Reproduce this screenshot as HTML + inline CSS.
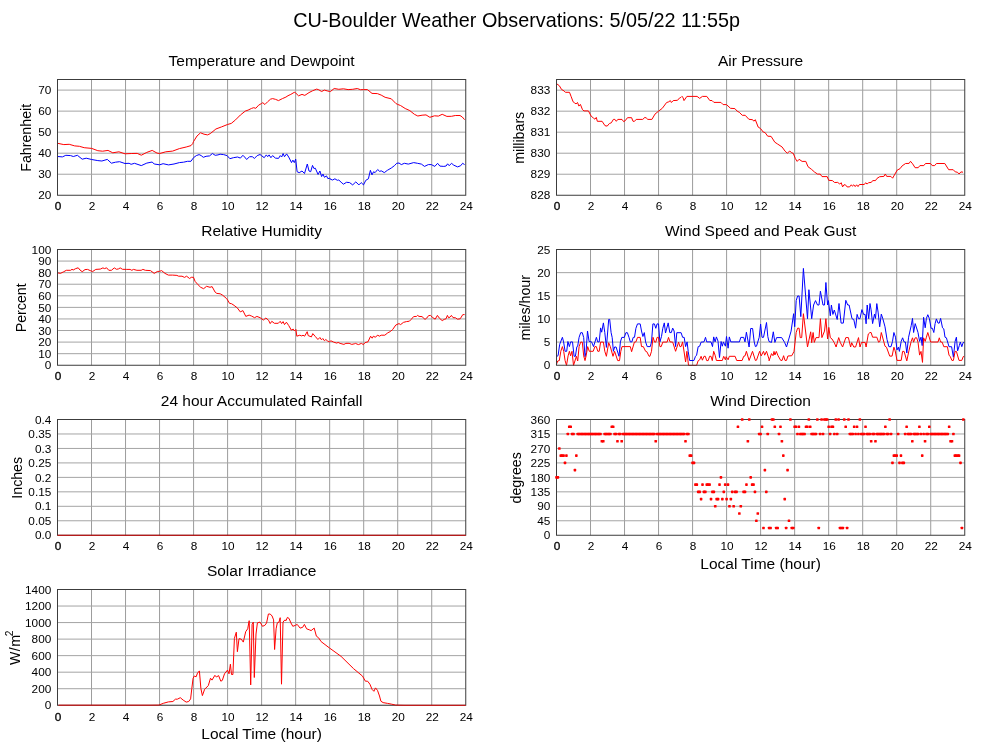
<!DOCTYPE html>
<html><head><meta charset="utf-8"><title>CU-Boulder Weather Observations</title>
<style>
html,body{margin:0;padding:0;background:#fff;}
svg{display:block;transform:translateZ(0);will-change:transform;}
text{font-family:"Liberation Sans",Arial,Helvetica,sans-serif;fill:#000;}
.mt{font-size:19.8px;text-anchor:middle;}
.t{font-size:15.5px;text-anchor:middle;}
.yt{font-size:14.2px;text-anchor:middle;}
.yl{font-size:11.8px;text-anchor:end;}
.xl{font-size:11.8px;text-anchor:middle;}
.b0{stroke:#000;stroke-width:0.3px;}
.g{stroke:#9c9c9c;stroke-width:1;}
.h{stroke:#a4a4a4;}
.f{fill:none;stroke:#3c3c3c;stroke-width:1;}
</style></head><body>
<svg width="1000" height="745" viewBox="0 0 1000 745">
<rect width="1000" height="745" fill="#fff"/>
<text x="516.6" y="27" class="mt">CU-Boulder Weather Observations: 5/05/22 11:55p</text>
<text x="261.6" y="66.2" class="t">Temperature and Dewpoint</text>
<line x1="91.52" y1="79.5" x2="91.52" y2="195.25" class="g"/>
<line x1="125.54" y1="79.5" x2="125.54" y2="195.25" class="g"/>
<line x1="159.56" y1="79.5" x2="159.56" y2="195.25" class="g"/>
<line x1="193.58" y1="79.5" x2="193.58" y2="195.25" class="g"/>
<line x1="227.60" y1="79.5" x2="227.60" y2="195.25" class="g"/>
<line x1="261.62" y1="79.5" x2="261.62" y2="195.25" class="g"/>
<line x1="295.65" y1="79.5" x2="295.65" y2="195.25" class="g"/>
<line x1="329.67" y1="79.5" x2="329.67" y2="195.25" class="g"/>
<line x1="363.69" y1="79.5" x2="363.69" y2="195.25" class="g"/>
<line x1="397.71" y1="79.5" x2="397.71" y2="195.25" class="g"/>
<line x1="431.73" y1="79.5" x2="431.73" y2="195.25" class="g"/>
<text x="51.3" y="199.40" class="yl">20</text>
<line x1="57.5" y1="174.22" x2="465.75" y2="174.22" class="g h"/>
<text x="51.3" y="178.37" class="yl">30</text>
<line x1="57.5" y1="153.19" x2="465.75" y2="153.19" class="g h"/>
<text x="51.3" y="157.34" class="yl">40</text>
<line x1="57.5" y1="132.16" x2="465.75" y2="132.16" class="g h"/>
<text x="51.3" y="136.31" class="yl">50</text>
<line x1="57.5" y1="111.13" x2="465.75" y2="111.13" class="g h"/>
<text x="51.3" y="115.28" class="yl">60</text>
<line x1="57.5" y1="90.10" x2="465.75" y2="90.10" class="g h"/>
<text x="51.3" y="94.25" class="yl">70</text>
<text x="58.0" y="210.2" class="xl b0">0</text>
<text x="92.0" y="210.2" class="xl">2</text>
<text x="126.0" y="210.2" class="xl">4</text>
<text x="160.1" y="210.2" class="xl">6</text>
<text x="194.1" y="210.2" class="xl">8</text>
<text x="228.1" y="210.2" class="xl">10</text>
<text x="262.1" y="210.2" class="xl">12</text>
<text x="296.1" y="210.2" class="xl">14</text>
<text x="330.2" y="210.2" class="xl">16</text>
<text x="364.2" y="210.2" class="xl">18</text>
<text x="398.2" y="210.2" class="xl">20</text>
<text x="432.2" y="210.2" class="xl">22</text>
<text x="466.2" y="210.2" class="xl">24</text>
<text transform="translate(31.4,137.8) rotate(-90)" class="yt">Fahrenheit</text>
<polyline points="57.7,156.5 62.4,156.9 65.8,155.3 70.6,155.6 73.3,156.5 77.4,155.3 82.2,159.2 86.2,158.2 91.7,159.5 97.8,160.6 101.9,161.0 107.3,159.4 111.4,163.2 115.5,162.2 119.6,161.7 125.0,163.5 129.1,163.3 131.1,164.3 134.5,163.3 141.3,165.6 146.8,163.1 152.2,162.0 154.2,164.0 159.7,164.8 163.1,163.7 168.5,164.9 174.0,164.0 179.4,162.6 183.5,162.2 187.6,161.3 191.0,161.3 192.7,158.8 193.5,157.7 196.3,155.6 199.1,154.6 201.2,155.6 203.3,157.3 206.1,156.3 209.6,155.9 212.4,153.5 215.2,155.3 218.0,154.9 220.1,154.2 223.6,154.6 227.1,155.6 229.9,158.7 233.4,157.7 237.6,157.0 240.4,158.1 242.9,155.3 244.6,157.0 246.7,159.5 249.5,156.7 252.3,156.7 254.4,158.4 257.2,155.6 260.0,154.5 261.5,155.6 264.2,157.7 266.3,154.9 267.7,156.7 269.1,154.9 270.9,157.7 272.6,155.6 275.4,158.1 278.5,158.4 280.3,155.6 281.7,157.0 283.1,153.5 284.5,156.7 286.6,153.9 288.7,157.0 291.5,162.6 292.9,160.1 294.3,162.6 295.7,159.1 297.1,171.7 299.2,172.7 302.0,171.0 304.5,173.5 307.3,164.0 309.0,171.0 310.7,171.7 312.5,165.4 313.9,168.5 315.3,168.2 318.1,174.5 319.9,171.0 321.6,176.6 323.0,174.1 324.4,177.3 326.5,175.9 327.9,178.7 329.7,178.0 330.3,179.2 332.6,180.0 334.9,178.8 337.3,180.3 338.8,180.0 341.1,182.2 343.4,184.2 346.5,182.3 349.6,182.6 352.7,184.9 355.8,181.9 358.9,184.9 361.2,182.6 363.5,184.9 365.8,180.3 368.4,178.8 370.4,170.3 372.0,174.9 373.5,171.8 375.1,172.6 377.7,169.5 379.7,171.4 381.2,170.8 384.3,172.6 387.4,170.3 391.3,168.0 394.4,165.7 396.7,163.3 399.0,163.0 401.3,164.6 404.4,163.3 408.3,164.1 413.7,162.6 417.5,163.3 421.4,164.1 424.5,166.4 428.3,164.6 431.4,164.6 434.8,166.4 437.6,163.3 439.9,166.1 443.8,166.4 446.1,166.0 447.6,163.8 449.2,165.7 451.5,163.3 453.8,165.2 457.6,166.9 460.7,165.7 462.6,163.3 464.6,164.6" fill="none" stroke="#0000ff" stroke-width="1.0" stroke-linejoin="round"/>
<polyline points="57.7,143.3 63.8,144.6 69.2,144.3 74.7,145.9 79.4,146.3 84.2,147.7 91.7,148.4 97.8,150.7 102.6,151.2 108.0,150.4 112.8,152.8 118.9,151.8 125.0,153.8 131.8,153.5 137.2,153.4 141.3,155.2 146.8,152.4 152.2,150.4 157.0,153.1 159.7,153.5 165.8,151.8 172.6,151.1 179.4,148.6 186.2,147.0 191.0,145.6 192.7,143.6 193.5,141.6 197.0,136.0 200.5,132.8 204.0,134.2 207.5,134.9 210.3,133.6 215.9,129.0 221.5,126.9 227.5,124.5 231.3,123.4 235.5,119.9 240.4,115.0 245.3,111.1 248.1,110.1 251.6,108.4 253.7,107.7 255.8,108.3 258.6,105.2 261.5,103.5 262.8,102.7 264.9,104.5 267.7,101.7 270.5,99.2 272.6,98.6 275.4,99.3 278.5,100.6 282.4,98.6 285.9,97.1 288.0,95.7 290.8,94.4 294.3,92.3 295.7,93.0 298.5,95.8 302.0,94.4 304.8,95.4 309.0,92.6 312.5,90.8 316.7,89.1 318.8,89.8 321.6,91.5 324.4,90.1 327.2,90.9 329.7,91.5 330.3,91.6 334.2,88.5 338.8,89.3 343.4,88.8 348.1,89.6 352.7,89.3 357.3,88.5 360.4,89.7 363.5,89.6 367.4,89.6 372.0,93.4 377.4,93.6 381.2,95.1 385.1,97.3 391.3,98.8 395.9,103.5 397.6,104.4 400.5,105.5 405.2,108.5 409.8,110.6 414.4,114.3 417.8,116.0 422.1,115.2 426.0,114.9 429.9,117.3 434.5,115.8 438.4,116.1 442.2,114.3 446.9,116.4 451.5,116.3 455.3,115.5 460.0,115.5 462.3,117.0 464.6,119.7" fill="none" stroke="#ff0000" stroke-width="1.0" stroke-linejoin="round"/>
<rect x="57.5" y="79.5" width="408.25" height="115.75" class="f"/>
<text x="261.6" y="236.2" class="t">Relative Humidity</text>
<line x1="91.52" y1="249.5" x2="91.52" y2="365.25" class="g"/>
<line x1="125.54" y1="249.5" x2="125.54" y2="365.25" class="g"/>
<line x1="159.56" y1="249.5" x2="159.56" y2="365.25" class="g"/>
<line x1="193.58" y1="249.5" x2="193.58" y2="365.25" class="g"/>
<line x1="227.60" y1="249.5" x2="227.60" y2="365.25" class="g"/>
<line x1="261.62" y1="249.5" x2="261.62" y2="365.25" class="g"/>
<line x1="295.65" y1="249.5" x2="295.65" y2="365.25" class="g"/>
<line x1="329.67" y1="249.5" x2="329.67" y2="365.25" class="g"/>
<line x1="363.69" y1="249.5" x2="363.69" y2="365.25" class="g"/>
<line x1="397.71" y1="249.5" x2="397.71" y2="365.25" class="g"/>
<line x1="431.73" y1="249.5" x2="431.73" y2="365.25" class="g"/>
<text x="51.3" y="369.40" class="yl">0</text>
<line x1="57.5" y1="353.68" x2="465.75" y2="353.68" class="g h"/>
<text x="51.3" y="357.82" class="yl">10</text>
<line x1="57.5" y1="342.10" x2="465.75" y2="342.10" class="g h"/>
<text x="51.3" y="346.25" class="yl">20</text>
<line x1="57.5" y1="330.52" x2="465.75" y2="330.52" class="g h"/>
<text x="51.3" y="334.67" class="yl">30</text>
<line x1="57.5" y1="318.95" x2="465.75" y2="318.95" class="g h"/>
<text x="51.3" y="323.10" class="yl">40</text>
<line x1="57.5" y1="307.38" x2="465.75" y2="307.38" class="g h"/>
<text x="51.3" y="311.52" class="yl">50</text>
<line x1="57.5" y1="295.80" x2="465.75" y2="295.80" class="g h"/>
<text x="51.3" y="299.95" class="yl">60</text>
<line x1="57.5" y1="284.23" x2="465.75" y2="284.23" class="g h"/>
<text x="51.3" y="288.38" class="yl">70</text>
<line x1="57.5" y1="272.65" x2="465.75" y2="272.65" class="g h"/>
<text x="51.3" y="276.80" class="yl">80</text>
<line x1="57.5" y1="261.07" x2="465.75" y2="261.07" class="g h"/>
<text x="51.3" y="265.22" class="yl">90</text>
<text x="51.3" y="253.65" class="yl">100</text>
<text x="58.0" y="380.2" class="xl b0">0</text>
<text x="92.0" y="380.2" class="xl">2</text>
<text x="126.0" y="380.2" class="xl">4</text>
<text x="160.1" y="380.2" class="xl">6</text>
<text x="194.1" y="380.2" class="xl">8</text>
<text x="228.1" y="380.2" class="xl">10</text>
<text x="262.1" y="380.2" class="xl">12</text>
<text x="296.1" y="380.2" class="xl">14</text>
<text x="330.2" y="380.2" class="xl">16</text>
<text x="364.2" y="380.2" class="xl">18</text>
<text x="398.2" y="380.2" class="xl">20</text>
<text x="432.2" y="380.2" class="xl">22</text>
<text x="466.2" y="380.2" class="xl">24</text>
<text transform="translate(26,307.8) rotate(-90)" class="yt">Percent</text>
<polyline points="57.9,272.9 60.4,273.4 63.8,271.7 66.3,270.3 70.6,270.3 72.0,269.3 73.2,270.0 75.7,268.6 78.2,267.8 80.0,270.0 82.2,271.7 85.0,269.6 87.6,269.4 90.2,270.6 92.7,271.5 95.8,269.4 100.3,269.1 102.9,267.9 104.6,268.6 106.6,267.8 108.8,270.3 111.4,270.3 114.3,267.9 116.5,269.3 118.5,268.9 120.2,267.9 122.5,269.3 126.7,269.4 130.1,269.4 131.8,270.3 133.5,269.4 136.9,270.3 141.2,270.3 142.9,269.4 145.4,270.3 150.5,270.6 154.2,273.4 157.3,271.5 159.5,271.3 161.6,270.6 165.0,273.4 168.4,275.1 172.6,275.1 176.9,275.4 178.6,276.2 182.0,276.2 184.5,277.4 186.6,276.2 189.6,278.5 191.3,277.3 193.5,277.3 195.1,281.4 198.1,284.8 200.7,287.3 203.6,288.7 206.6,286.3 210.0,287.3 212.1,286.6 215.1,292.1 216.8,293.4 220.2,293.8 222.8,295.3 226.7,298.7 226.9,298.9 229.6,303.4 231.5,303.7 234.1,305.4 237.3,307.9 240.3,311.9 242.9,310.6 245.8,316.4 249.1,315.1 251.7,316.1 254.6,317.7 256.9,316.4 260.1,317.7 263.4,320.0 265.9,318.0 268.6,320.3 270.2,323.6 271.8,321.3 274.4,323.3 278.3,323.3 280.2,321.3 281.6,323.6 283.1,321.6 284.5,324.6 286.4,322.2 288.7,325.5 291.3,330.1 293.2,329.1 294.6,331.0 295.9,329.4 296.8,336.2 299.8,335.2 301.7,335.9 303.0,335.2 304.6,336.2 307.2,331.7 308.2,335.6 311.4,336.9 312.8,333.6 315.4,336.6 317.9,339.5 319.9,337.5 321.5,339.8 322.8,338.5 324.4,340.7 325.8,339.5 327.7,341.1 329.6,341.8 330.9,340.8 333.6,342.1 336.8,343.1 338.1,342.4 340.1,343.4 343.9,344.4 345.9,343.4 349.1,343.3 351.8,344.4 354.8,343.7 355.4,343.4 358.4,344.6 361.4,343.4 363.4,344.6 365.0,342.6 368.0,341.8 370.6,336.2 372.2,338.2 373.4,336.2 375.2,337.2 377.8,335.2 379.4,336.2 381.2,335.2 384.8,335.2 387.8,332.8 390.2,331.6 392.6,329.6 395.8,325.0 399.0,323.6 400.6,324.6 403.4,322.4 406.4,321.6 409.4,321.2 411.2,319.4 413.6,316.6 416.6,316.4 417.6,315.4 419.0,316.4 422.0,316.6 425.0,319.4 426.8,318.0 428.6,315.6 430.4,315.4 432.8,317.6 435.2,319.2 437.4,315.4 439.4,318.2 442.2,320.6 444.2,319.4 446.0,318.8 447.4,315.4 448.6,317.8 450.2,317.0 451.4,315.4 453.0,317.6 455.6,317.8 457.4,319.2 460.2,318.8 462.8,314.6 464.6,314.6" fill="none" stroke="#ff0000" stroke-width="1.0" stroke-linejoin="round"/>
<rect x="57.5" y="249.5" width="408.25" height="115.75" class="f"/>
<text x="261.6" y="406.2" class="t">24 hour Accumulated Rainfall</text>
<line x1="91.52" y1="419.5" x2="91.52" y2="535.25" class="g"/>
<line x1="125.54" y1="419.5" x2="125.54" y2="535.25" class="g"/>
<line x1="159.56" y1="419.5" x2="159.56" y2="535.25" class="g"/>
<line x1="193.58" y1="419.5" x2="193.58" y2="535.25" class="g"/>
<line x1="227.60" y1="419.5" x2="227.60" y2="535.25" class="g"/>
<line x1="261.62" y1="419.5" x2="261.62" y2="535.25" class="g"/>
<line x1="295.65" y1="419.5" x2="295.65" y2="535.25" class="g"/>
<line x1="329.67" y1="419.5" x2="329.67" y2="535.25" class="g"/>
<line x1="363.69" y1="419.5" x2="363.69" y2="535.25" class="g"/>
<line x1="397.71" y1="419.5" x2="397.71" y2="535.25" class="g"/>
<line x1="431.73" y1="419.5" x2="431.73" y2="535.25" class="g"/>
<text x="51.3" y="539.40" class="yl">0.0</text>
<line x1="57.5" y1="520.78" x2="465.75" y2="520.78" class="g h"/>
<text x="51.3" y="524.93" class="yl">0.05</text>
<line x1="57.5" y1="506.31" x2="465.75" y2="506.31" class="g h"/>
<text x="51.3" y="510.46" class="yl">0.1</text>
<line x1="57.5" y1="491.84" x2="465.75" y2="491.84" class="g h"/>
<text x="51.3" y="495.99" class="yl">0.15</text>
<line x1="57.5" y1="477.38" x2="465.75" y2="477.38" class="g h"/>
<text x="51.3" y="481.52" class="yl">0.2</text>
<line x1="57.5" y1="462.91" x2="465.75" y2="462.91" class="g h"/>
<text x="51.3" y="467.06" class="yl">0.25</text>
<line x1="57.5" y1="448.44" x2="465.75" y2="448.44" class="g h"/>
<text x="51.3" y="452.59" class="yl">0.3</text>
<line x1="57.5" y1="433.97" x2="465.75" y2="433.97" class="g h"/>
<text x="51.3" y="438.12" class="yl">0.35</text>
<text x="51.3" y="423.65" class="yl">0.4</text>
<text x="58.0" y="550.2" class="xl b0">0</text>
<text x="92.0" y="550.2" class="xl">2</text>
<text x="126.0" y="550.2" class="xl">4</text>
<text x="160.1" y="550.2" class="xl">6</text>
<text x="194.1" y="550.2" class="xl">8</text>
<text x="228.1" y="550.2" class="xl">10</text>
<text x="262.1" y="550.2" class="xl">12</text>
<text x="296.1" y="550.2" class="xl">14</text>
<text x="330.2" y="550.2" class="xl">16</text>
<text x="364.2" y="550.2" class="xl">18</text>
<text x="398.2" y="550.2" class="xl">20</text>
<text x="432.2" y="550.2" class="xl">22</text>
<text x="466.2" y="550.2" class="xl">24</text>
<text transform="translate(22.2,477.8) rotate(-90)" class="yt">Inches</text>
<rect x="57.5" y="419.5" width="408.25" height="115.75" class="f"/>
<line x1="57.5" y1="535.25" x2="465.75" y2="535.25" stroke="#cc0000" stroke-width="1"/>
<text x="261.6" y="576.2" class="t">Solar Irradiance</text>
<line x1="91.52" y1="589.5" x2="91.52" y2="705.25" class="g"/>
<line x1="125.54" y1="589.5" x2="125.54" y2="705.25" class="g"/>
<line x1="159.56" y1="589.5" x2="159.56" y2="705.25" class="g"/>
<line x1="193.58" y1="589.5" x2="193.58" y2="705.25" class="g"/>
<line x1="227.60" y1="589.5" x2="227.60" y2="705.25" class="g"/>
<line x1="261.62" y1="589.5" x2="261.62" y2="705.25" class="g"/>
<line x1="295.65" y1="589.5" x2="295.65" y2="705.25" class="g"/>
<line x1="329.67" y1="589.5" x2="329.67" y2="705.25" class="g"/>
<line x1="363.69" y1="589.5" x2="363.69" y2="705.25" class="g"/>
<line x1="397.71" y1="589.5" x2="397.71" y2="705.25" class="g"/>
<line x1="431.73" y1="589.5" x2="431.73" y2="705.25" class="g"/>
<text x="51.3" y="709.40" class="yl">0</text>
<line x1="57.5" y1="688.71" x2="465.75" y2="688.71" class="g h"/>
<text x="51.3" y="692.86" class="yl">200</text>
<line x1="57.5" y1="672.18" x2="465.75" y2="672.18" class="g h"/>
<text x="51.3" y="676.33" class="yl">400</text>
<line x1="57.5" y1="655.64" x2="465.75" y2="655.64" class="g h"/>
<text x="51.3" y="659.79" class="yl">600</text>
<line x1="57.5" y1="639.11" x2="465.75" y2="639.11" class="g h"/>
<text x="51.3" y="643.26" class="yl">800</text>
<line x1="57.5" y1="622.57" x2="465.75" y2="622.57" class="g h"/>
<text x="51.3" y="626.72" class="yl">1000</text>
<line x1="57.5" y1="606.04" x2="465.75" y2="606.04" class="g h"/>
<text x="51.3" y="610.19" class="yl">1200</text>
<text x="51.3" y="593.65" class="yl">1400</text>
<text x="58.0" y="721.2" class="xl b0">0</text>
<text x="92.0" y="721.2" class="xl">2</text>
<text x="126.0" y="721.2" class="xl">4</text>
<text x="160.1" y="721.2" class="xl">6</text>
<text x="194.1" y="721.2" class="xl">8</text>
<text x="228.1" y="721.2" class="xl">10</text>
<text x="262.1" y="721.2" class="xl">12</text>
<text x="296.1" y="721.2" class="xl">14</text>
<text x="330.2" y="721.2" class="xl">16</text>
<text x="364.2" y="721.2" class="xl">18</text>
<text x="398.2" y="721.2" class="xl">20</text>
<text x="432.2" y="721.2" class="xl">22</text>
<text x="466.2" y="721.2" class="xl">24</text>
<text x="261.6" y="739.2" class="t">Local Time (hour)</text>
<text transform="translate(20.2,647.8) rotate(-90)" class="yt"><tspan letter-spacing="0.5">W/</tspan>m<tspan dx="-1.3" dy="-7.5" font-size="10.2">2</tspan></text>
<rect x="57.5" y="589.5" width="408.25" height="115.75" class="f"/>
<polyline points="58.5,705.2 150.0,705.2 158.9,705.1 163.3,703.3 168.4,701.9 172.9,701.5 175.4,699.2 177.3,699.2 180.3,697.7 183.2,700.1 186.2,702.1 188.7,701.5 190.6,698.9 191.8,688.6 193.1,678.2 194.3,676.0 196.1,676.8 197.5,673.1 199.4,670.9 200.9,688.6 202.4,695.6 204.6,689.3 208.3,685.6 210.5,678.2 212.0,680.1 214.9,675.3 216.4,677.0 218.6,675.6 220.8,681.2 222.3,680.4 224.5,673.8 227.5,670.1 229.0,673.8 230.4,664.2 231.5,674.5 232.9,674.5 234.4,638.4 236.3,632.2 237.4,651.7 239.0,638.7 241.2,639.1 243.3,642.1 245.7,631.7 247.7,628.8 249.2,620.7 250.7,684.9 252.1,624.4 253.3,622.1 254.3,677.5 256.0,634.0 257.4,622.9 260.0,622.1 262.5,626.3 264.8,625.4 266.6,622.9 268.4,614.0 270.2,614.0 272.1,616.0 273.6,619.9 274.6,649.5 276.1,628.8 277.3,622.9 279.0,622.1 280.2,617.7 281.5,684.2 283.0,622.1 284.9,619.9 286.0,620.7 287.4,617.4 289.1,618.5 290.9,622.9 292.8,626.3 295.3,625.4 297.2,624.4 300.1,628.1 302.7,627.3 304.4,624.4 306.6,628.8 309.3,629.8 311.1,630.6 314.2,628.1 316.4,636.2 318.5,637.7 321.1,641.6 329.5,648.0 341.1,656.4 353.6,668.7 362.5,676.1 365.4,681.2 367.6,681.2 369.9,684.2 372.1,689.4 373.9,691.3 375.5,687.9 377.5,690.4 379.5,696.0 380.9,701.2 383.1,702.6 387.6,703.4 391.3,704.1 395.7,705.1 405.0,705.3 465.6,705.3" fill="none" stroke="#ff0000" stroke-width="1.0" stroke-linejoin="round"/>
<line x1="57.5" y1="705.25" x2="465.75" y2="705.25" stroke="#3c3c3c" stroke-opacity="0.25" stroke-width="1"/>
<text x="760.6" y="66.2" class="t">Air Pressure</text>
<line x1="590.52" y1="79.5" x2="590.52" y2="195.25" class="g"/>
<line x1="624.54" y1="79.5" x2="624.54" y2="195.25" class="g"/>
<line x1="658.56" y1="79.5" x2="658.56" y2="195.25" class="g"/>
<line x1="692.58" y1="79.5" x2="692.58" y2="195.25" class="g"/>
<line x1="726.60" y1="79.5" x2="726.60" y2="195.25" class="g"/>
<line x1="760.62" y1="79.5" x2="760.62" y2="195.25" class="g"/>
<line x1="794.65" y1="79.5" x2="794.65" y2="195.25" class="g"/>
<line x1="828.67" y1="79.5" x2="828.67" y2="195.25" class="g"/>
<line x1="862.69" y1="79.5" x2="862.69" y2="195.25" class="g"/>
<line x1="896.71" y1="79.5" x2="896.71" y2="195.25" class="g"/>
<line x1="930.73" y1="79.5" x2="930.73" y2="195.25" class="g"/>
<text x="550.3" y="199.40" class="yl">828</text>
<line x1="556.5" y1="174.23" x2="964.75" y2="174.23" class="g h"/>
<text x="550.3" y="178.38" class="yl">829</text>
<line x1="556.5" y1="153.21" x2="964.75" y2="153.21" class="g h"/>
<text x="550.3" y="157.36" class="yl">830</text>
<line x1="556.5" y1="132.19" x2="964.75" y2="132.19" class="g h"/>
<text x="550.3" y="136.34" class="yl">831</text>
<line x1="556.5" y1="111.18" x2="964.75" y2="111.18" class="g h"/>
<text x="550.3" y="115.33" class="yl">832</text>
<line x1="556.5" y1="90.16" x2="964.75" y2="90.16" class="g h"/>
<text x="550.3" y="94.31" class="yl">833</text>
<text x="557.0" y="210.2" class="xl b0">0</text>
<text x="591.0" y="210.2" class="xl">2</text>
<text x="625.0" y="210.2" class="xl">4</text>
<text x="659.1" y="210.2" class="xl">6</text>
<text x="693.1" y="210.2" class="xl">8</text>
<text x="727.1" y="210.2" class="xl">10</text>
<text x="761.1" y="210.2" class="xl">12</text>
<text x="795.1" y="210.2" class="xl">14</text>
<text x="829.2" y="210.2" class="xl">16</text>
<text x="863.2" y="210.2" class="xl">18</text>
<text x="897.2" y="210.2" class="xl">20</text>
<text x="931.2" y="210.2" class="xl">22</text>
<text x="965.2" y="210.2" class="xl">24</text>
<text transform="translate(523.7,137.8) rotate(-90)" class="yt">millibars</text>
<polyline points="556.5,83.6 559.4,85.8 561.5,89.4 564.0,90.9 565.4,92.3 569.5,92.3 571.2,96.7 573.1,101.8 574.6,102.9 576.0,103.9 577.5,102.5 578.9,106.1 580.4,104.4 582.5,109.7 584.0,110.9 588.4,110.9 591.2,116.2 593.4,118.0 594.9,119.2 596.3,117.4 597.3,121.3 602.1,121.3 605.0,125.7 607.2,126.1 609.4,123.5 611.3,122.8 613.4,119.4 614.9,119.4 616.3,121.3 617.8,119.4 622.0,119.4 623.6,121.6 625.0,120.9 627.5,117.7 631.6,117.7 633.0,121.3 634.5,121.3 636.2,119.4 642.7,119.4 644.9,117.4 646.3,118.0 647.8,119.4 651.9,119.4 655.0,114.1 658.5,111.2 662.3,108.3 666.6,102.5 668.8,101.8 670.3,100.6 671.4,102.5 673.2,100.6 677.5,100.3 679.4,98.1 680.9,97.4 681.9,96.4 683.0,97.4 684.0,100.6 686.9,96.4 697.1,96.4 699.7,98.4 702.4,96.4 706.8,96.4 709.8,100.5 712.0,100.5 713.9,102.4 720.9,102.4 723.1,104.6 726.5,104.6 730.5,108.3 734.9,108.6 737.1,111.1 739.3,112.3 742.3,115.3 745.2,115.3 748.9,119.3 752.6,119.7 753.8,121.2 755.3,119.7 758.2,127.1 760.6,128.6 763.2,132.0 765.1,132.6 767.7,136.2 771.1,136.4 774.8,142.2 777.7,144.1 782.1,147.0 785.1,151.2 787.3,153.2 789.8,151.0 791.7,152.9 793.2,153.2 795.4,158.6 797.2,161.4 799.1,159.3 802.1,161.4 805.8,161.4 808.0,166.7 811.7,169.5 814.6,172.1 817.6,174.1 820.2,174.1 822.0,176.6 827.2,176.6 828.7,180.3 832.4,180.6 834.6,182.5 837.7,182.4 839.8,184.1 841.2,182.7 842.6,186.9 844.0,184.8 845.4,184.8 847.1,186.9 849.6,186.9 851.3,184.8 852.4,186.2 853.8,184.8 855.2,186.6 856.6,184.8 858.0,186.6 859.4,184.5 864.3,184.5 865.7,182.7 867.1,184.1 868.5,182.7 871.3,182.4 872.7,180.6 875.5,180.6 876.9,178.5 879.7,176.7 883.9,176.4 885.3,174.0 886.7,176.4 890.9,176.4 892.6,178.2 897.2,170.1 900.0,168.7 902.1,165.9 905.6,163.5 909.1,163.4 910.5,161.3 912.6,163.8 915.1,167.7 918.2,167.7 919.9,165.6 923.8,165.6 925.5,163.5 930.5,163.5 932.2,165.6 934.7,165.6 936.4,163.5 944.8,163.5 948.7,169.7 953.2,169.7 955.3,171.9 957.4,172.2 959.1,174.0 960.9,171.9 963.0,172.2" fill="none" stroke="#ff0000" stroke-width="1.0" stroke-linejoin="round"/>
<rect x="556.5" y="79.5" width="408.25" height="115.75" class="f"/>
<text x="760.6" y="236.2" class="t">Wind Speed and Peak Gust</text>
<line x1="590.52" y1="249.5" x2="590.52" y2="365.25" class="g"/>
<line x1="624.54" y1="249.5" x2="624.54" y2="365.25" class="g"/>
<line x1="658.56" y1="249.5" x2="658.56" y2="365.25" class="g"/>
<line x1="692.58" y1="249.5" x2="692.58" y2="365.25" class="g"/>
<line x1="726.60" y1="249.5" x2="726.60" y2="365.25" class="g"/>
<line x1="760.62" y1="249.5" x2="760.62" y2="365.25" class="g"/>
<line x1="794.65" y1="249.5" x2="794.65" y2="365.25" class="g"/>
<line x1="828.67" y1="249.5" x2="828.67" y2="365.25" class="g"/>
<line x1="862.69" y1="249.5" x2="862.69" y2="365.25" class="g"/>
<line x1="896.71" y1="249.5" x2="896.71" y2="365.25" class="g"/>
<line x1="930.73" y1="249.5" x2="930.73" y2="365.25" class="g"/>
<text x="550.3" y="369.40" class="yl">0</text>
<line x1="556.5" y1="342.10" x2="964.75" y2="342.10" class="g h"/>
<text x="550.3" y="346.25" class="yl">5</text>
<line x1="556.5" y1="318.95" x2="964.75" y2="318.95" class="g h"/>
<text x="550.3" y="323.10" class="yl">10</text>
<line x1="556.5" y1="295.80" x2="964.75" y2="295.80" class="g h"/>
<text x="550.3" y="299.95" class="yl">15</text>
<line x1="556.5" y1="272.65" x2="964.75" y2="272.65" class="g h"/>
<text x="550.3" y="276.80" class="yl">20</text>
<text x="550.3" y="253.65" class="yl">25</text>
<text x="557.0" y="380.2" class="xl b0">0</text>
<text x="591.0" y="380.2" class="xl">2</text>
<text x="625.0" y="380.2" class="xl">4</text>
<text x="659.1" y="380.2" class="xl">6</text>
<text x="693.1" y="380.2" class="xl">8</text>
<text x="727.1" y="380.2" class="xl">10</text>
<text x="761.1" y="380.2" class="xl">12</text>
<text x="795.1" y="380.2" class="xl">14</text>
<text x="829.2" y="380.2" class="xl">16</text>
<text x="863.2" y="380.2" class="xl">18</text>
<text x="897.2" y="380.2" class="xl">20</text>
<text x="931.2" y="380.2" class="xl">22</text>
<text x="965.2" y="380.2" class="xl">24</text>
<text transform="translate(530.1,307.8) rotate(-90)" class="yt">miles/hour</text>
<polyline points="556.4,356.7 558.1,355.6 559.7,344.3 562.4,337.3 563.6,341.9 565.1,351.3 566.7,351.3 567.9,341.5 569.4,346.6 570.6,341.9 572.5,341.9 574.1,356.3 575.4,356.3 576.8,347.0 577.7,346.0 579.1,337.3 580.7,332.7 582.3,332.7 583.7,337.6 585.0,356.7 586.0,352.4 587.5,331.0 589.1,341.5 591.6,341.9 593.5,346.6 596.4,337.3 597.7,341.9 599.2,341.9 600.6,327.9 601.7,332.2 603.4,322.9 604.8,332.6 606.4,347.4 608.7,319.4 609.7,319.4 611.1,332.6 612.2,337.6 613.4,351.3 614.6,347.0 616.1,347.0 619.0,356.3 620.4,341.9 621.8,337.4 624.3,337.4 625.9,332.7 627.4,332.7 629.0,337.4 630.3,341.9 631.9,341.9 633.2,337.4 634.5,337.3 635.9,328.3 637.5,323.9 640.2,323.9 641.5,331.0 642.9,336.5 644.3,332.6 645.6,341.9 647.2,346.6 650.3,346.6 651.5,341.9 652.9,323.9 654.4,323.9 655.8,328.3 657.1,323.9 658.5,323.9 659.9,341.9 661.5,336.5 662.8,328.3 664.3,322.9 665.5,333.0 668.2,322.9 669.8,332.6 671.3,332.6 672.7,328.1 674.1,331.0 675.6,346.6 676.8,332.7 681.1,332.7 682.6,337.3 684.2,337.4 685.6,346.6 687.1,341.9 688.2,351.3 689.6,360.5 693.9,360.5 695.5,356.3 696.6,355.2 698.2,346.6 698.3,346.6 699.7,346.2 701.1,342.1 704.0,341.9 705.5,337.3 706.7,341.9 711.0,341.9 712.5,346.6 713.7,336.9 715.1,341.9 716.4,336.9 718.0,341.1 719.5,357.5 721.1,341.5 722.3,346.2 723.4,341.9 725.4,346.2 726.5,336.5 728.1,348.2 729.3,336.9 730.8,341.9 739.4,341.9 740.8,337.4 743.7,337.4 745.0,341.9 746.4,332.2 749.1,347.0 750.7,328.5 752.6,328.5 754.2,341.9 755.4,346.6 756.5,346.2 759.2,337.3 760.6,324.0 762.0,337.3 763.5,337.3 766.5,322.5 767.8,336.5 769.0,341.5 771.5,342.4 773.3,331.8 774.9,342.4 776.6,337.6 781.7,337.6 784.6,342.4 786.5,347.0 791.1,331.1 793.6,313.7 794.7,326.7 796.2,300.6 797.6,296.0 799.1,296.0 800.8,316.6 803.4,268.4 807.5,318.7 808.9,289.7 811.7,318.7 813.6,305.0 815.5,300.6 817.5,305.0 819.0,305.0 820.4,291.2 823.0,305.0 824.5,305.0 825.9,282.5 827.6,305.0 828.4,300.6 830.3,315.8 831.4,305.0 832.9,314.4 834.3,310.0 837.2,319.5 839.0,303.5 841.1,323.1 843.3,323.1 845.8,300.3 847.7,305.0 849.1,305.0 852.0,318.7 853.8,319.5 855.6,328.2 857.1,314.4 858.5,318.7 860.0,318.7 861.9,309.6 863.6,314.4 865.1,314.4 866.1,323.8 867.2,305.0 868.7,318.7 870.0,303.5 871.1,309.9 872.6,323.6 874.5,314.1 875.5,318.4 876.8,303.6 878.1,312.1 879.7,326.8 881.3,314.1 882.9,318.9 885.0,326.8 887.0,339.4 888.9,346.7 891.0,346.7 892.5,341.4 893.9,332.5 895.5,337.2 897.0,349.9 898.4,347.2 899.4,351.4 901.2,341.4 902.6,337.8 904.1,342.0 905.4,342.0 906.8,353.0 908.6,337.2 911.2,325.7 912.5,318.4 913.6,332.5 915.2,323.6 918.0,332.5 919.6,341.4 921.0,337.2 922.2,345.6 923.6,317.3 925.2,327.8 926.4,318.4 927.8,314.7 929.3,318.4 931.1,328.3 932.4,328.3 933.8,332.5 935.1,323.6 936.4,318.9 938.0,323.1 939.3,323.1 940.6,318.4 942.5,327.8 943.8,328.9 945.0,337.2 946.4,337.8 949.0,346.7 951.6,346.7 953.4,357.2 955.1,341.4 956.4,337.2 957.6,350.9 959.3,345.6 960.3,342.0 961.8,346.7 963.2,342.5 964.2,342.5" fill="none" stroke="#0000ff" stroke-width="1.0" stroke-linejoin="round"/>
<polyline points="556.4,364.5 557.7,361.0 559.3,360.6 560.8,351.3 562.4,346.6 563.7,351.3 565.1,360.6 566.5,365.4 568.1,355.9 569.4,351.3 570.6,355.9 572.0,351.3 573.5,365.4 576.4,356.3 577.7,361.0 579.1,346.6 580.7,342.1 582.3,342.1 583.7,355.9 585.0,360.6 586.1,355.9 587.7,346.6 589.3,351.3 593.2,351.3 594.9,346.6 596.3,346.6 597.8,351.3 599.2,351.3 600.6,342.1 603.4,342.1 604.8,351.3 606.4,356.3 608.7,342.7 610.3,346.6 613.0,356.3 614.6,351.3 617.7,360.6 619.5,360.6 620.8,351.3 622.0,346.6 629.0,346.6 630.3,346.6 631.6,351.7 634.4,342.1 635.9,341.9 637.5,337.4 640.2,337.4 641.5,346.6 643.3,346.6 645.6,351.3 646.8,351.7 649.1,356.3 649.9,356.3 651.5,351.3 653.0,337.3 654.6,342.1 655.8,342.1 657.1,337.4 658.5,337.4 659.9,346.6 661.2,346.6 662.8,342.1 667.1,342.1 668.5,337.4 670.0,341.9 672.7,342.1 675.6,351.3 678.6,342.1 679.9,346.6 681.1,346.6 682.6,341.9 685.6,362.0 686.9,351.3 688.5,365.4 696.6,365.4 698.2,360.6 698.3,360.6 699.7,359.8 701.1,356.3 702.4,360.2 704.0,356.3 705.3,356.3 706.7,360.6 708.2,360.6 709.6,356.3 711.0,356.3 712.3,360.6 713.7,351.3 715.1,355.2 716.4,360.5 722.3,360.5 723.7,356.3 725.4,359.8 726.1,356.7 728.1,359.8 729.3,356.3 735.1,356.3 736.7,360.5 742.1,360.5 743.7,356.3 745.0,355.9 746.4,351.3 749.1,360.5 752.5,351.3 755.4,360.5 756.5,360.2 759.6,351.3 761.2,355.9 763.5,351.3 764.7,355.2 766.5,351.3 769.0,359.1 769.1,360.8 771.5,353.6 773.0,355.7 774.0,351.4 774.9,355.0 776.3,351.4 778.0,355.7 780.7,360.4 782.1,360.4 783.6,355.7 785.0,360.4 786.5,360.4 787.9,356.0 791.8,355.7 794.0,351.4 796.2,332.5 797.6,328.2 799.1,328.2 800.2,337.6 801.7,337.6 803.4,313.7 807.5,347.0 810.7,331.8 811.7,342.7 813.1,332.5 814.3,342.4 816.0,337.6 819.0,337.6 820.4,318.7 821.9,337.6 824.5,331.1 825.9,318.7 827.6,339.0 828.8,327.4 830.3,337.6 832.0,339.0 834.3,342.7 836.1,347.0 838.7,337.6 840.4,342.7 842.6,347.0 845.8,337.6 848.4,337.6 850.6,347.0 851.7,342.7 853.8,347.0 855.6,347.0 858.5,337.6 860.0,347.0 861.5,342.4 865.1,342.4 866.1,347.0 868.3,334.0 870.0,332.5 871.1,332.5 872.6,337.2 876.8,337.2 878.6,342.2 879.9,341.4 881.3,332.5 885.0,346.2 886.5,347.2 889.7,356.1 892.1,356.1 893.9,347.2 895.2,350.9 897.0,360.4 901.2,360.4 902.6,351.4 904.1,351.4 906.8,360.9 908.9,350.9 911.2,341.4 912.5,337.8 913.6,342.2 915.2,337.8 916.7,337.8 918.0,342.2 919.6,355.1 921.0,351.4 922.5,362.4 923.6,337.8 925.2,341.4 926.4,337.2 927.8,332.5 930.6,342.0 938.0,342.0 939.3,337.8 940.6,342.0 942.2,342.2 943.8,346.7 947.4,346.7 949.0,355.1 950.3,356.7 951.9,360.4 953.4,360.4 955.1,351.4 956.4,351.4 959.0,360.4 961.8,360.4 963.2,356.7 964.2,356.1" fill="none" stroke="#ff0000" stroke-width="1.0" stroke-linejoin="round"/>
<rect x="556.5" y="249.5" width="408.25" height="115.75" class="f"/>
<text x="760.6" y="406.2" class="t">Wind Direction</text>
<line x1="590.52" y1="419.5" x2="590.52" y2="535.25" class="g"/>
<line x1="624.54" y1="419.5" x2="624.54" y2="535.25" class="g"/>
<line x1="658.56" y1="419.5" x2="658.56" y2="535.25" class="g"/>
<line x1="692.58" y1="419.5" x2="692.58" y2="535.25" class="g"/>
<line x1="726.60" y1="419.5" x2="726.60" y2="535.25" class="g"/>
<line x1="760.62" y1="419.5" x2="760.62" y2="535.25" class="g"/>
<line x1="794.65" y1="419.5" x2="794.65" y2="535.25" class="g"/>
<line x1="828.67" y1="419.5" x2="828.67" y2="535.25" class="g"/>
<line x1="862.69" y1="419.5" x2="862.69" y2="535.25" class="g"/>
<line x1="896.71" y1="419.5" x2="896.71" y2="535.25" class="g"/>
<line x1="930.73" y1="419.5" x2="930.73" y2="535.25" class="g"/>
<text x="550.3" y="539.40" class="yl">0</text>
<line x1="556.5" y1="520.78" x2="964.75" y2="520.78" class="g h"/>
<text x="550.3" y="524.93" class="yl">45</text>
<line x1="556.5" y1="506.31" x2="964.75" y2="506.31" class="g h"/>
<text x="550.3" y="510.46" class="yl">90</text>
<line x1="556.5" y1="491.84" x2="964.75" y2="491.84" class="g h"/>
<text x="550.3" y="495.99" class="yl">135</text>
<line x1="556.5" y1="477.38" x2="964.75" y2="477.38" class="g h"/>
<text x="550.3" y="481.52" class="yl">180</text>
<line x1="556.5" y1="462.91" x2="964.75" y2="462.91" class="g h"/>
<text x="550.3" y="467.06" class="yl">225</text>
<line x1="556.5" y1="448.44" x2="964.75" y2="448.44" class="g h"/>
<text x="550.3" y="452.59" class="yl">270</text>
<line x1="556.5" y1="433.97" x2="964.75" y2="433.97" class="g h"/>
<text x="550.3" y="438.12" class="yl">315</text>
<text x="550.3" y="423.65" class="yl">360</text>
<text x="557.0" y="550.2" class="xl b0">0</text>
<text x="591.0" y="550.2" class="xl">2</text>
<text x="625.0" y="550.2" class="xl">4</text>
<text x="659.1" y="550.2" class="xl">6</text>
<text x="693.1" y="550.2" class="xl">8</text>
<text x="727.1" y="550.2" class="xl">10</text>
<text x="761.1" y="550.2" class="xl">12</text>
<text x="795.1" y="550.2" class="xl">14</text>
<text x="829.2" y="550.2" class="xl">16</text>
<text x="863.2" y="550.2" class="xl">18</text>
<text x="897.2" y="550.2" class="xl">20</text>
<text x="931.2" y="550.2" class="xl">22</text>
<text x="965.2" y="550.2" class="xl">24</text>
<text x="760.6" y="569.2" class="t">Local Time (hour)</text>
<text transform="translate(521,477.8) rotate(-90)" class="yt">degrees</text>
<rect x="556.5" y="419.5" width="408.25" height="115.75" class="f"/>
<rect x="555.20" y="476.08" width="2.6" height="2.6" rx="0.6" fill="#ff0000"/>
<rect x="556.62" y="476.08" width="2.6" height="2.6" rx="0.6" fill="#ff0000"/>
<rect x="558.04" y="447.14" width="2.6" height="2.6" rx="0.6" fill="#ff0000"/>
<rect x="559.45" y="454.37" width="2.6" height="2.6" rx="0.6" fill="#ff0000"/>
<rect x="560.87" y="454.37" width="2.6" height="2.6" rx="0.6" fill="#ff0000"/>
<rect x="562.29" y="454.37" width="2.6" height="2.6" rx="0.6" fill="#ff0000"/>
<rect x="563.71" y="461.61" width="2.6" height="2.6" rx="0.6" fill="#ff0000"/>
<rect x="565.12" y="454.37" width="2.6" height="2.6" rx="0.6" fill="#ff0000"/>
<rect x="566.54" y="432.67" width="2.6" height="2.6" rx="0.6" fill="#ff0000"/>
<rect x="567.96" y="425.43" width="2.6" height="2.6" rx="0.6" fill="#ff0000"/>
<rect x="569.38" y="425.43" width="2.6" height="2.6" rx="0.6" fill="#ff0000"/>
<rect x="570.79" y="432.67" width="2.6" height="2.6" rx="0.6" fill="#ff0000"/>
<rect x="572.21" y="432.67" width="2.6" height="2.6" rx="0.6" fill="#ff0000"/>
<rect x="573.63" y="468.84" width="2.6" height="2.6" rx="0.6" fill="#ff0000"/>
<rect x="575.05" y="454.37" width="2.6" height="2.6" rx="0.6" fill="#ff0000"/>
<rect x="576.46" y="432.67" width="2.6" height="2.6" rx="0.6" fill="#ff0000"/>
<rect x="577.88" y="432.67" width="2.6" height="2.6" rx="0.6" fill="#ff0000"/>
<rect x="579.30" y="432.67" width="2.6" height="2.6" rx="0.6" fill="#ff0000"/>
<rect x="580.72" y="432.67" width="2.6" height="2.6" rx="0.6" fill="#ff0000"/>
<rect x="582.13" y="432.67" width="2.6" height="2.6" rx="0.6" fill="#ff0000"/>
<rect x="583.55" y="432.67" width="2.6" height="2.6" rx="0.6" fill="#ff0000"/>
<rect x="584.97" y="432.67" width="2.6" height="2.6" rx="0.6" fill="#ff0000"/>
<rect x="586.39" y="432.67" width="2.6" height="2.6" rx="0.6" fill="#ff0000"/>
<rect x="587.80" y="432.67" width="2.6" height="2.6" rx="0.6" fill="#ff0000"/>
<rect x="589.22" y="432.67" width="2.6" height="2.6" rx="0.6" fill="#ff0000"/>
<rect x="590.64" y="432.67" width="2.6" height="2.6" rx="0.6" fill="#ff0000"/>
<rect x="592.06" y="432.67" width="2.6" height="2.6" rx="0.6" fill="#ff0000"/>
<rect x="593.47" y="432.67" width="2.6" height="2.6" rx="0.6" fill="#ff0000"/>
<rect x="594.89" y="432.67" width="2.6" height="2.6" rx="0.6" fill="#ff0000"/>
<rect x="596.31" y="432.67" width="2.6" height="2.6" rx="0.6" fill="#ff0000"/>
<rect x="597.73" y="432.67" width="2.6" height="2.6" rx="0.6" fill="#ff0000"/>
<rect x="599.14" y="432.67" width="2.6" height="2.6" rx="0.6" fill="#ff0000"/>
<rect x="600.56" y="439.90" width="2.6" height="2.6" rx="0.6" fill="#ff0000"/>
<rect x="601.98" y="439.90" width="2.6" height="2.6" rx="0.6" fill="#ff0000"/>
<rect x="603.40" y="432.67" width="2.6" height="2.6" rx="0.6" fill="#ff0000"/>
<rect x="604.81" y="432.67" width="2.6" height="2.6" rx="0.6" fill="#ff0000"/>
<rect x="606.23" y="432.67" width="2.6" height="2.6" rx="0.6" fill="#ff0000"/>
<rect x="607.65" y="432.67" width="2.6" height="2.6" rx="0.6" fill="#ff0000"/>
<rect x="609.07" y="432.67" width="2.6" height="2.6" rx="0.6" fill="#ff0000"/>
<rect x="610.48" y="425.43" width="2.6" height="2.6" rx="0.6" fill="#ff0000"/>
<rect x="611.90" y="425.43" width="2.6" height="2.6" rx="0.6" fill="#ff0000"/>
<rect x="613.32" y="432.67" width="2.6" height="2.6" rx="0.6" fill="#ff0000"/>
<rect x="614.74" y="432.67" width="2.6" height="2.6" rx="0.6" fill="#ff0000"/>
<rect x="616.15" y="439.90" width="2.6" height="2.6" rx="0.6" fill="#ff0000"/>
<rect x="617.57" y="432.67" width="2.6" height="2.6" rx="0.6" fill="#ff0000"/>
<rect x="618.99" y="432.67" width="2.6" height="2.6" rx="0.6" fill="#ff0000"/>
<rect x="620.41" y="439.90" width="2.6" height="2.6" rx="0.6" fill="#ff0000"/>
<rect x="621.82" y="432.67" width="2.6" height="2.6" rx="0.6" fill="#ff0000"/>
<rect x="623.24" y="432.67" width="2.6" height="2.6" rx="0.6" fill="#ff0000"/>
<rect x="624.66" y="432.67" width="2.6" height="2.6" rx="0.6" fill="#ff0000"/>
<rect x="626.08" y="432.67" width="2.6" height="2.6" rx="0.6" fill="#ff0000"/>
<rect x="627.49" y="432.67" width="2.6" height="2.6" rx="0.6" fill="#ff0000"/>
<rect x="628.91" y="432.67" width="2.6" height="2.6" rx="0.6" fill="#ff0000"/>
<rect x="630.33" y="432.67" width="2.6" height="2.6" rx="0.6" fill="#ff0000"/>
<rect x="631.75" y="432.67" width="2.6" height="2.6" rx="0.6" fill="#ff0000"/>
<rect x="633.16" y="432.67" width="2.6" height="2.6" rx="0.6" fill="#ff0000"/>
<rect x="634.58" y="432.67" width="2.6" height="2.6" rx="0.6" fill="#ff0000"/>
<rect x="636.00" y="432.67" width="2.6" height="2.6" rx="0.6" fill="#ff0000"/>
<rect x="637.42" y="432.67" width="2.6" height="2.6" rx="0.6" fill="#ff0000"/>
<rect x="638.83" y="432.67" width="2.6" height="2.6" rx="0.6" fill="#ff0000"/>
<rect x="640.25" y="432.67" width="2.6" height="2.6" rx="0.6" fill="#ff0000"/>
<rect x="641.67" y="432.67" width="2.6" height="2.6" rx="0.6" fill="#ff0000"/>
<rect x="643.09" y="432.67" width="2.6" height="2.6" rx="0.6" fill="#ff0000"/>
<rect x="644.50" y="432.67" width="2.6" height="2.6" rx="0.6" fill="#ff0000"/>
<rect x="645.92" y="432.67" width="2.6" height="2.6" rx="0.6" fill="#ff0000"/>
<rect x="647.34" y="432.67" width="2.6" height="2.6" rx="0.6" fill="#ff0000"/>
<rect x="648.76" y="432.67" width="2.6" height="2.6" rx="0.6" fill="#ff0000"/>
<rect x="650.17" y="432.67" width="2.6" height="2.6" rx="0.6" fill="#ff0000"/>
<rect x="651.59" y="432.67" width="2.6" height="2.6" rx="0.6" fill="#ff0000"/>
<rect x="653.01" y="432.67" width="2.6" height="2.6" rx="0.6" fill="#ff0000"/>
<rect x="654.43" y="439.90" width="2.6" height="2.6" rx="0.6" fill="#ff0000"/>
<rect x="655.84" y="432.67" width="2.6" height="2.6" rx="0.6" fill="#ff0000"/>
<rect x="657.26" y="432.67" width="2.6" height="2.6" rx="0.6" fill="#ff0000"/>
<rect x="658.68" y="432.67" width="2.6" height="2.6" rx="0.6" fill="#ff0000"/>
<rect x="660.10" y="432.67" width="2.6" height="2.6" rx="0.6" fill="#ff0000"/>
<rect x="661.52" y="432.67" width="2.6" height="2.6" rx="0.6" fill="#ff0000"/>
<rect x="662.93" y="432.67" width="2.6" height="2.6" rx="0.6" fill="#ff0000"/>
<rect x="664.35" y="432.67" width="2.6" height="2.6" rx="0.6" fill="#ff0000"/>
<rect x="665.77" y="432.67" width="2.6" height="2.6" rx="0.6" fill="#ff0000"/>
<rect x="667.19" y="432.67" width="2.6" height="2.6" rx="0.6" fill="#ff0000"/>
<rect x="668.60" y="432.67" width="2.6" height="2.6" rx="0.6" fill="#ff0000"/>
<rect x="670.02" y="432.67" width="2.6" height="2.6" rx="0.6" fill="#ff0000"/>
<rect x="671.44" y="432.67" width="2.6" height="2.6" rx="0.6" fill="#ff0000"/>
<rect x="672.86" y="432.67" width="2.6" height="2.6" rx="0.6" fill="#ff0000"/>
<rect x="674.27" y="432.67" width="2.6" height="2.6" rx="0.6" fill="#ff0000"/>
<rect x="675.69" y="432.67" width="2.6" height="2.6" rx="0.6" fill="#ff0000"/>
<rect x="677.11" y="432.67" width="2.6" height="2.6" rx="0.6" fill="#ff0000"/>
<rect x="678.53" y="432.67" width="2.6" height="2.6" rx="0.6" fill="#ff0000"/>
<rect x="679.94" y="432.67" width="2.6" height="2.6" rx="0.6" fill="#ff0000"/>
<rect x="681.36" y="432.67" width="2.6" height="2.6" rx="0.6" fill="#ff0000"/>
<rect x="682.78" y="432.67" width="2.6" height="2.6" rx="0.6" fill="#ff0000"/>
<rect x="684.20" y="439.90" width="2.6" height="2.6" rx="0.6" fill="#ff0000"/>
<rect x="685.61" y="432.67" width="2.6" height="2.6" rx="0.6" fill="#ff0000"/>
<rect x="687.03" y="432.67" width="2.6" height="2.6" rx="0.6" fill="#ff0000"/>
<rect x="688.45" y="454.37" width="2.6" height="2.6" rx="0.6" fill="#ff0000"/>
<rect x="689.87" y="454.37" width="2.6" height="2.6" rx="0.6" fill="#ff0000"/>
<rect x="691.28" y="461.61" width="2.6" height="2.6" rx="0.6" fill="#ff0000"/>
<rect x="692.70" y="461.61" width="2.6" height="2.6" rx="0.6" fill="#ff0000"/>
<rect x="694.12" y="483.31" width="2.6" height="2.6" rx="0.6" fill="#ff0000"/>
<rect x="695.54" y="483.31" width="2.6" height="2.6" rx="0.6" fill="#ff0000"/>
<rect x="696.95" y="490.54" width="2.6" height="2.6" rx="0.6" fill="#ff0000"/>
<rect x="698.37" y="490.54" width="2.6" height="2.6" rx="0.6" fill="#ff0000"/>
<rect x="699.79" y="497.78" width="2.6" height="2.6" rx="0.6" fill="#ff0000"/>
<rect x="701.21" y="483.31" width="2.6" height="2.6" rx="0.6" fill="#ff0000"/>
<rect x="702.62" y="490.54" width="2.6" height="2.6" rx="0.6" fill="#ff0000"/>
<rect x="704.04" y="490.54" width="2.6" height="2.6" rx="0.6" fill="#ff0000"/>
<rect x="705.46" y="483.31" width="2.6" height="2.6" rx="0.6" fill="#ff0000"/>
<rect x="706.88" y="483.31" width="2.6" height="2.6" rx="0.6" fill="#ff0000"/>
<rect x="708.29" y="483.31" width="2.6" height="2.6" rx="0.6" fill="#ff0000"/>
<rect x="709.71" y="497.78" width="2.6" height="2.6" rx="0.6" fill="#ff0000"/>
<rect x="711.13" y="490.54" width="2.6" height="2.6" rx="0.6" fill="#ff0000"/>
<rect x="712.55" y="490.54" width="2.6" height="2.6" rx="0.6" fill="#ff0000"/>
<rect x="713.96" y="505.01" width="2.6" height="2.6" rx="0.6" fill="#ff0000"/>
<rect x="715.38" y="497.78" width="2.6" height="2.6" rx="0.6" fill="#ff0000"/>
<rect x="716.80" y="497.78" width="2.6" height="2.6" rx="0.6" fill="#ff0000"/>
<rect x="718.22" y="483.31" width="2.6" height="2.6" rx="0.6" fill="#ff0000"/>
<rect x="719.63" y="476.08" width="2.6" height="2.6" rx="0.6" fill="#ff0000"/>
<rect x="721.05" y="497.78" width="2.6" height="2.6" rx="0.6" fill="#ff0000"/>
<rect x="722.47" y="490.54" width="2.6" height="2.6" rx="0.6" fill="#ff0000"/>
<rect x="723.89" y="483.31" width="2.6" height="2.6" rx="0.6" fill="#ff0000"/>
<rect x="725.30" y="497.78" width="2.6" height="2.6" rx="0.6" fill="#ff0000"/>
<rect x="726.72" y="483.31" width="2.6" height="2.6" rx="0.6" fill="#ff0000"/>
<rect x="728.14" y="505.01" width="2.6" height="2.6" rx="0.6" fill="#ff0000"/>
<rect x="729.56" y="497.78" width="2.6" height="2.6" rx="0.6" fill="#ff0000"/>
<rect x="730.97" y="490.54" width="2.6" height="2.6" rx="0.6" fill="#ff0000"/>
<rect x="732.39" y="505.01" width="2.6" height="2.6" rx="0.6" fill="#ff0000"/>
<rect x="733.81" y="490.54" width="2.6" height="2.6" rx="0.6" fill="#ff0000"/>
<rect x="735.23" y="490.54" width="2.6" height="2.6" rx="0.6" fill="#ff0000"/>
<rect x="736.64" y="425.43" width="2.6" height="2.6" rx="0.6" fill="#ff0000"/>
<rect x="738.06" y="512.25" width="2.6" height="2.6" rx="0.6" fill="#ff0000"/>
<rect x="739.48" y="505.01" width="2.6" height="2.6" rx="0.6" fill="#ff0000"/>
<rect x="740.90" y="418.20" width="2.6" height="2.6" rx="0.6" fill="#ff0000"/>
<rect x="742.31" y="490.54" width="2.6" height="2.6" rx="0.6" fill="#ff0000"/>
<rect x="743.73" y="490.54" width="2.6" height="2.6" rx="0.6" fill="#ff0000"/>
<rect x="745.15" y="483.31" width="2.6" height="2.6" rx="0.6" fill="#ff0000"/>
<rect x="746.57" y="439.90" width="2.6" height="2.6" rx="0.6" fill="#ff0000"/>
<rect x="747.98" y="418.20" width="2.6" height="2.6" rx="0.6" fill="#ff0000"/>
<rect x="749.40" y="476.08" width="2.6" height="2.6" rx="0.6" fill="#ff0000"/>
<rect x="750.82" y="483.31" width="2.6" height="2.6" rx="0.6" fill="#ff0000"/>
<rect x="752.24" y="483.31" width="2.6" height="2.6" rx="0.6" fill="#ff0000"/>
<rect x="753.65" y="490.54" width="2.6" height="2.6" rx="0.6" fill="#ff0000"/>
<rect x="755.07" y="519.48" width="2.6" height="2.6" rx="0.6" fill="#ff0000"/>
<rect x="756.49" y="512.25" width="2.6" height="2.6" rx="0.6" fill="#ff0000"/>
<rect x="757.91" y="432.67" width="2.6" height="2.6" rx="0.6" fill="#ff0000"/>
<rect x="759.32" y="432.67" width="2.6" height="2.6" rx="0.6" fill="#ff0000"/>
<rect x="760.74" y="425.43" width="2.6" height="2.6" rx="0.6" fill="#ff0000"/>
<rect x="762.16" y="526.72" width="2.6" height="2.6" rx="0.6" fill="#ff0000"/>
<rect x="763.58" y="468.84" width="2.6" height="2.6" rx="0.6" fill="#ff0000"/>
<rect x="765.00" y="490.54" width="2.6" height="2.6" rx="0.6" fill="#ff0000"/>
<rect x="766.41" y="432.67" width="2.6" height="2.6" rx="0.6" fill="#ff0000"/>
<rect x="767.83" y="526.72" width="2.6" height="2.6" rx="0.6" fill="#ff0000"/>
<rect x="769.25" y="526.72" width="2.6" height="2.6" rx="0.6" fill="#ff0000"/>
<rect x="770.67" y="418.20" width="2.6" height="2.6" rx="0.6" fill="#ff0000"/>
<rect x="772.08" y="418.20" width="2.6" height="2.6" rx="0.6" fill="#ff0000"/>
<rect x="773.50" y="425.43" width="2.6" height="2.6" rx="0.6" fill="#ff0000"/>
<rect x="774.92" y="526.72" width="2.6" height="2.6" rx="0.6" fill="#ff0000"/>
<rect x="776.34" y="526.72" width="2.6" height="2.6" rx="0.6" fill="#ff0000"/>
<rect x="777.75" y="432.67" width="2.6" height="2.6" rx="0.6" fill="#ff0000"/>
<rect x="779.17" y="425.43" width="2.6" height="2.6" rx="0.6" fill="#ff0000"/>
<rect x="780.59" y="439.90" width="2.6" height="2.6" rx="0.6" fill="#ff0000"/>
<rect x="782.01" y="454.37" width="2.6" height="2.6" rx="0.6" fill="#ff0000"/>
<rect x="783.42" y="497.78" width="2.6" height="2.6" rx="0.6" fill="#ff0000"/>
<rect x="784.84" y="526.72" width="2.6" height="2.6" rx="0.6" fill="#ff0000"/>
<rect x="786.26" y="468.84" width="2.6" height="2.6" rx="0.6" fill="#ff0000"/>
<rect x="787.68" y="519.48" width="2.6" height="2.6" rx="0.6" fill="#ff0000"/>
<rect x="789.09" y="418.20" width="2.6" height="2.6" rx="0.6" fill="#ff0000"/>
<rect x="790.51" y="526.72" width="2.6" height="2.6" rx="0.6" fill="#ff0000"/>
<rect x="791.93" y="526.72" width="2.6" height="2.6" rx="0.6" fill="#ff0000"/>
<rect x="793.35" y="425.43" width="2.6" height="2.6" rx="0.6" fill="#ff0000"/>
<rect x="794.76" y="425.43" width="2.6" height="2.6" rx="0.6" fill="#ff0000"/>
<rect x="796.18" y="432.67" width="2.6" height="2.6" rx="0.6" fill="#ff0000"/>
<rect x="797.60" y="425.43" width="2.6" height="2.6" rx="0.6" fill="#ff0000"/>
<rect x="799.02" y="432.67" width="2.6" height="2.6" rx="0.6" fill="#ff0000"/>
<rect x="800.43" y="432.67" width="2.6" height="2.6" rx="0.6" fill="#ff0000"/>
<rect x="801.85" y="432.67" width="2.6" height="2.6" rx="0.6" fill="#ff0000"/>
<rect x="803.27" y="432.67" width="2.6" height="2.6" rx="0.6" fill="#ff0000"/>
<rect x="804.69" y="425.43" width="2.6" height="2.6" rx="0.6" fill="#ff0000"/>
<rect x="806.10" y="425.43" width="2.6" height="2.6" rx="0.6" fill="#ff0000"/>
<rect x="807.52" y="418.20" width="2.6" height="2.6" rx="0.6" fill="#ff0000"/>
<rect x="808.94" y="425.43" width="2.6" height="2.6" rx="0.6" fill="#ff0000"/>
<rect x="810.36" y="432.67" width="2.6" height="2.6" rx="0.6" fill="#ff0000"/>
<rect x="811.77" y="432.67" width="2.6" height="2.6" rx="0.6" fill="#ff0000"/>
<rect x="813.19" y="432.67" width="2.6" height="2.6" rx="0.6" fill="#ff0000"/>
<rect x="814.61" y="432.67" width="2.6" height="2.6" rx="0.6" fill="#ff0000"/>
<rect x="816.03" y="418.20" width="2.6" height="2.6" rx="0.6" fill="#ff0000"/>
<rect x="817.44" y="526.72" width="2.6" height="2.6" rx="0.6" fill="#ff0000"/>
<rect x="818.86" y="432.67" width="2.6" height="2.6" rx="0.6" fill="#ff0000"/>
<rect x="820.28" y="418.20" width="2.6" height="2.6" rx="0.6" fill="#ff0000"/>
<rect x="821.70" y="432.67" width="2.6" height="2.6" rx="0.6" fill="#ff0000"/>
<rect x="823.11" y="418.20" width="2.6" height="2.6" rx="0.6" fill="#ff0000"/>
<rect x="824.53" y="418.20" width="2.6" height="2.6" rx="0.6" fill="#ff0000"/>
<rect x="825.95" y="418.20" width="2.6" height="2.6" rx="0.6" fill="#ff0000"/>
<rect x="827.37" y="425.43" width="2.6" height="2.6" rx="0.6" fill="#ff0000"/>
<rect x="828.78" y="432.67" width="2.6" height="2.6" rx="0.6" fill="#ff0000"/>
<rect x="830.20" y="425.43" width="2.6" height="2.6" rx="0.6" fill="#ff0000"/>
<rect x="831.62" y="425.43" width="2.6" height="2.6" rx="0.6" fill="#ff0000"/>
<rect x="833.04" y="432.67" width="2.6" height="2.6" rx="0.6" fill="#ff0000"/>
<rect x="834.45" y="418.20" width="2.6" height="2.6" rx="0.6" fill="#ff0000"/>
<rect x="835.87" y="432.67" width="2.6" height="2.6" rx="0.6" fill="#ff0000"/>
<rect x="837.29" y="418.20" width="2.6" height="2.6" rx="0.6" fill="#ff0000"/>
<rect x="838.71" y="526.72" width="2.6" height="2.6" rx="0.6" fill="#ff0000"/>
<rect x="840.12" y="526.72" width="2.6" height="2.6" rx="0.6" fill="#ff0000"/>
<rect x="841.54" y="526.72" width="2.6" height="2.6" rx="0.6" fill="#ff0000"/>
<rect x="842.96" y="418.20" width="2.6" height="2.6" rx="0.6" fill="#ff0000"/>
<rect x="844.38" y="425.43" width="2.6" height="2.6" rx="0.6" fill="#ff0000"/>
<rect x="845.79" y="526.72" width="2.6" height="2.6" rx="0.6" fill="#ff0000"/>
<rect x="847.21" y="418.20" width="2.6" height="2.6" rx="0.6" fill="#ff0000"/>
<rect x="848.63" y="432.67" width="2.6" height="2.6" rx="0.6" fill="#ff0000"/>
<rect x="850.05" y="432.67" width="2.6" height="2.6" rx="0.6" fill="#ff0000"/>
<rect x="851.46" y="432.67" width="2.6" height="2.6" rx="0.6" fill="#ff0000"/>
<rect x="852.88" y="425.43" width="2.6" height="2.6" rx="0.6" fill="#ff0000"/>
<rect x="854.30" y="432.67" width="2.6" height="2.6" rx="0.6" fill="#ff0000"/>
<rect x="855.72" y="425.43" width="2.6" height="2.6" rx="0.6" fill="#ff0000"/>
<rect x="857.13" y="432.67" width="2.6" height="2.6" rx="0.6" fill="#ff0000"/>
<rect x="858.55" y="418.20" width="2.6" height="2.6" rx="0.6" fill="#ff0000"/>
<rect x="859.97" y="432.67" width="2.6" height="2.6" rx="0.6" fill="#ff0000"/>
<rect x="861.39" y="432.67" width="2.6" height="2.6" rx="0.6" fill="#ff0000"/>
<rect x="862.81" y="432.67" width="2.6" height="2.6" rx="0.6" fill="#ff0000"/>
<rect x="864.22" y="425.43" width="2.6" height="2.6" rx="0.6" fill="#ff0000"/>
<rect x="865.64" y="432.67" width="2.6" height="2.6" rx="0.6" fill="#ff0000"/>
<rect x="867.06" y="432.67" width="2.6" height="2.6" rx="0.6" fill="#ff0000"/>
<rect x="868.48" y="432.67" width="2.6" height="2.6" rx="0.6" fill="#ff0000"/>
<rect x="869.89" y="439.90" width="2.6" height="2.6" rx="0.6" fill="#ff0000"/>
<rect x="871.31" y="432.67" width="2.6" height="2.6" rx="0.6" fill="#ff0000"/>
<rect x="872.73" y="432.67" width="2.6" height="2.6" rx="0.6" fill="#ff0000"/>
<rect x="874.15" y="439.90" width="2.6" height="2.6" rx="0.6" fill="#ff0000"/>
<rect x="875.56" y="432.67" width="2.6" height="2.6" rx="0.6" fill="#ff0000"/>
<rect x="876.98" y="432.67" width="2.6" height="2.6" rx="0.6" fill="#ff0000"/>
<rect x="878.40" y="432.67" width="2.6" height="2.6" rx="0.6" fill="#ff0000"/>
<rect x="879.82" y="432.67" width="2.6" height="2.6" rx="0.6" fill="#ff0000"/>
<rect x="881.23" y="432.67" width="2.6" height="2.6" rx="0.6" fill="#ff0000"/>
<rect x="882.65" y="432.67" width="2.6" height="2.6" rx="0.6" fill="#ff0000"/>
<rect x="884.07" y="425.43" width="2.6" height="2.6" rx="0.6" fill="#ff0000"/>
<rect x="885.49" y="432.67" width="2.6" height="2.6" rx="0.6" fill="#ff0000"/>
<rect x="886.90" y="432.67" width="2.6" height="2.6" rx="0.6" fill="#ff0000"/>
<rect x="888.32" y="418.20" width="2.6" height="2.6" rx="0.6" fill="#ff0000"/>
<rect x="889.74" y="432.67" width="2.6" height="2.6" rx="0.6" fill="#ff0000"/>
<rect x="891.16" y="461.61" width="2.6" height="2.6" rx="0.6" fill="#ff0000"/>
<rect x="892.57" y="454.37" width="2.6" height="2.6" rx="0.6" fill="#ff0000"/>
<rect x="893.99" y="454.37" width="2.6" height="2.6" rx="0.6" fill="#ff0000"/>
<rect x="895.41" y="454.37" width="2.6" height="2.6" rx="0.6" fill="#ff0000"/>
<rect x="896.83" y="432.67" width="2.6" height="2.6" rx="0.6" fill="#ff0000"/>
<rect x="898.24" y="461.61" width="2.6" height="2.6" rx="0.6" fill="#ff0000"/>
<rect x="899.66" y="454.37" width="2.6" height="2.6" rx="0.6" fill="#ff0000"/>
<rect x="901.08" y="461.61" width="2.6" height="2.6" rx="0.6" fill="#ff0000"/>
<rect x="902.50" y="461.61" width="2.6" height="2.6" rx="0.6" fill="#ff0000"/>
<rect x="903.91" y="432.67" width="2.6" height="2.6" rx="0.6" fill="#ff0000"/>
<rect x="905.33" y="425.43" width="2.6" height="2.6" rx="0.6" fill="#ff0000"/>
<rect x="906.75" y="432.67" width="2.6" height="2.6" rx="0.6" fill="#ff0000"/>
<rect x="908.17" y="432.67" width="2.6" height="2.6" rx="0.6" fill="#ff0000"/>
<rect x="909.58" y="432.67" width="2.6" height="2.6" rx="0.6" fill="#ff0000"/>
<rect x="911.00" y="439.90" width="2.6" height="2.6" rx="0.6" fill="#ff0000"/>
<rect x="912.42" y="432.67" width="2.6" height="2.6" rx="0.6" fill="#ff0000"/>
<rect x="913.84" y="432.67" width="2.6" height="2.6" rx="0.6" fill="#ff0000"/>
<rect x="915.25" y="432.67" width="2.6" height="2.6" rx="0.6" fill="#ff0000"/>
<rect x="916.67" y="432.67" width="2.6" height="2.6" rx="0.6" fill="#ff0000"/>
<rect x="918.09" y="425.43" width="2.6" height="2.6" rx="0.6" fill="#ff0000"/>
<rect x="919.51" y="432.67" width="2.6" height="2.6" rx="0.6" fill="#ff0000"/>
<rect x="920.92" y="454.37" width="2.6" height="2.6" rx="0.6" fill="#ff0000"/>
<rect x="922.34" y="432.67" width="2.6" height="2.6" rx="0.6" fill="#ff0000"/>
<rect x="923.76" y="439.90" width="2.6" height="2.6" rx="0.6" fill="#ff0000"/>
<rect x="925.18" y="432.67" width="2.6" height="2.6" rx="0.6" fill="#ff0000"/>
<rect x="926.59" y="432.67" width="2.6" height="2.6" rx="0.6" fill="#ff0000"/>
<rect x="928.01" y="425.43" width="2.6" height="2.6" rx="0.6" fill="#ff0000"/>
<rect x="929.43" y="432.67" width="2.6" height="2.6" rx="0.6" fill="#ff0000"/>
<rect x="930.85" y="432.67" width="2.6" height="2.6" rx="0.6" fill="#ff0000"/>
<rect x="932.26" y="432.67" width="2.6" height="2.6" rx="0.6" fill="#ff0000"/>
<rect x="933.68" y="432.67" width="2.6" height="2.6" rx="0.6" fill="#ff0000"/>
<rect x="935.10" y="432.67" width="2.6" height="2.6" rx="0.6" fill="#ff0000"/>
<rect x="936.52" y="432.67" width="2.6" height="2.6" rx="0.6" fill="#ff0000"/>
<rect x="937.93" y="432.67" width="2.6" height="2.6" rx="0.6" fill="#ff0000"/>
<rect x="939.35" y="432.67" width="2.6" height="2.6" rx="0.6" fill="#ff0000"/>
<rect x="940.77" y="432.67" width="2.6" height="2.6" rx="0.6" fill="#ff0000"/>
<rect x="942.19" y="432.67" width="2.6" height="2.6" rx="0.6" fill="#ff0000"/>
<rect x="943.60" y="432.67" width="2.6" height="2.6" rx="0.6" fill="#ff0000"/>
<rect x="945.02" y="432.67" width="2.6" height="2.6" rx="0.6" fill="#ff0000"/>
<rect x="946.44" y="432.67" width="2.6" height="2.6" rx="0.6" fill="#ff0000"/>
<rect x="947.86" y="425.43" width="2.6" height="2.6" rx="0.6" fill="#ff0000"/>
<rect x="949.27" y="439.90" width="2.6" height="2.6" rx="0.6" fill="#ff0000"/>
<rect x="950.69" y="439.90" width="2.6" height="2.6" rx="0.6" fill="#ff0000"/>
<rect x="952.11" y="432.67" width="2.6" height="2.6" rx="0.6" fill="#ff0000"/>
<rect x="953.53" y="454.37" width="2.6" height="2.6" rx="0.6" fill="#ff0000"/>
<rect x="954.94" y="454.37" width="2.6" height="2.6" rx="0.6" fill="#ff0000"/>
<rect x="956.36" y="454.37" width="2.6" height="2.6" rx="0.6" fill="#ff0000"/>
<rect x="957.78" y="454.37" width="2.6" height="2.6" rx="0.6" fill="#ff0000"/>
<rect x="959.20" y="461.61" width="2.6" height="2.6" rx="0.6" fill="#ff0000"/>
<rect x="960.61" y="526.72" width="2.6" height="2.6" rx="0.6" fill="#ff0000"/>
<rect x="962.03" y="418.20" width="2.6" height="2.6" rx="0.6" fill="#ff0000"/>
</svg>
</body></html>
